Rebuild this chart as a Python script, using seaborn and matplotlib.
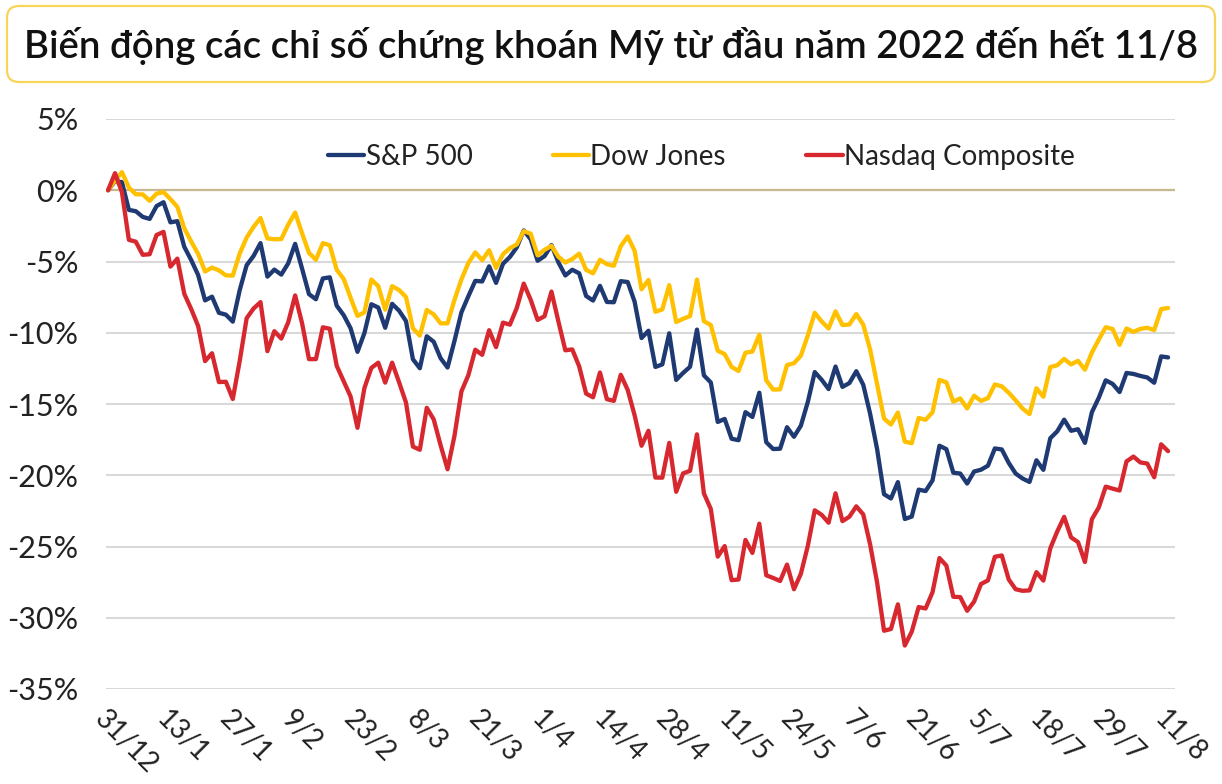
import matplotlib
matplotlib.use("Agg")
import matplotlib.pyplot as plt
from matplotlib.patches import FancyBboxPatch
import numpy as np
import pandas as pd
import seaborn as sns

# Cumulative change since 31/12/2021 (%), one value per trading day up to 11/8/2022
sp500 = [0, 0.64, 0.57, -1.38, -1.47, -1.87, -2.01, -1.11, -0.84, -2.25,
         -2.17, -3.97, -4.90, -5.95, -7.73, -7.47, -8.60, -8.73, -9.22, -7.01,
         -5.26, -4.61, -3.71, -6.06, -5.57, -5.92, -5.13, -3.76, -5.50, -7.29,
         -7.65, -6.19, -6.11, -8.10, -8.76, -9.68, -11.34, -10.02, -8.00, -8.23,
         -9.65, -7.97, -8.45, -9.18, -11.86, -12.49, -10.25, -10.63, -11.79, -12.44,
         -10.57, -8.57, -7.44, -6.36, -6.40, -5.34, -6.50, -5.16, -4.68, -4.00,
         -2.82, -3.44, -4.95, -4.62, -3.85, -5.06, -5.98, -5.58, -5.83, -7.42,
         -7.74, -6.71, -7.84, -7.86, -6.38, -6.44, -7.82, -10.37, -9.86, -12.40,
         -12.22, -10.04, -13.31, -12.82, -12.39, -9.78, -12.99, -13.49, -16.26, -16.05,
         -17.44, -17.54, -15.57, -15.91, -14.21, -17.68, -18.16, -18.14, -16.63, -17.30,
         -16.52, -14.86, -12.76, -13.30, -13.95, -12.37, -13.80, -13.53, -12.70, -13.65,
         -15.70, -18.16, -21.33, -21.63, -20.48, -23.07, -22.90, -21.01, -21.11, -20.36,
         -17.93, -18.17, -19.82, -19.88, -20.58, -19.74, -19.61, -19.33, -18.12, -18.19,
         -19.13, -19.88, -20.23, -20.47, -18.95, -19.62, -17.40, -16.92, -16.10, -16.88,
         -16.77, -17.73, -15.58, -14.56, -13.34, -13.59, -14.16, -12.82, -12.89, -13.03,
         -13.14, -13.51, -11.66, -11.73]

dow = [0, 0.68, 1.27, 0.19, -0.28, -0.29, -0.74, -0.24, -0.13, -0.62,
       -1.17, -2.67, -3.60, -4.47, -5.70, -5.43, -5.62, -5.97, -5.99, -4.44,
       -3.32, -2.57, -1.95, -3.38, -3.44, -3.43, -2.41, -1.57, -3.02, -4.40,
       -4.88, -3.71, -3.86, -5.58, -6.22, -7.54, -8.82, -8.57, -6.27, -6.73,
       -8.38, -6.73, -7.00, -7.49, -9.69, -10.20, -8.40, -8.71, -9.34, -9.34,
       -7.69, -6.26, -5.11, -4.36, -4.91, -4.21, -5.45, -4.49, -4.06, -3.80,
       -2.87, -3.05, -4.57, -4.18, -3.90, -4.67, -5.07, -4.83, -4.45, -5.59,
       -5.83, -4.88, -5.19, -5.30, -3.93, -3.24, -4.25, -6.95, -6.30, -8.53,
       -8.36, -6.66, -9.25, -9.02, -8.83, -6.27, -9.19, -9.46, -11.26, -11.50,
       -12.40, -12.68, -11.40, -11.32, -10.14, -13.34, -13.99, -13.97, -12.27, -12.14,
       -11.61, -10.19, -8.60, -9.21, -9.70, -8.50, -9.46, -9.42, -8.69, -9.43,
       -11.19, -13.61, -16.02, -16.44, -15.60, -17.64, -17.75, -15.98, -16.11, -15.58,
       -13.31, -13.48, -14.84, -14.61, -15.31, -14.42, -14.78, -14.59, -13.63, -13.76,
       -14.21, -14.74, -15.32, -15.71, -13.90, -14.49, -12.41, -12.28, -11.84, -12.22,
       -11.97, -12.59, -11.39, -10.48, -9.61, -9.74, -10.85, -9.70, -9.94, -9.73,
       -9.65, -9.81, -8.34, -8.26]

nasdaq = [0, 1.20, -0.14, -3.48, -3.61, -4.53, -4.49, -3.14, -2.92, -5.36,
          -4.80, -7.27, -8.34, -9.53, -11.99, -11.44, -13.46, -13.44, -14.65, -11.98,
          -8.98, -8.30, -7.85, -11.29, -9.89, -10.41, -9.27, -7.38, -9.33, -11.85,
          -11.85, -9.62, -9.72, -12.32, -13.40, -14.47, -16.67, -13.88, -12.47, -12.10,
          -13.50, -12.10, -13.47, -14.90, -17.99, -18.21, -15.27, -16.08, -17.90, -19.58,
          -17.23, -14.12, -12.98, -11.19, -11.55, -9.82, -11.01, -9.29, -9.43, -8.25,
          -6.55, -7.69, -9.10, -8.84, -7.11, -9.21, -11.23, -11.17, -12.36, -14.27,
          -14.53, -12.79, -14.66, -14.78, -12.95, -14.01, -15.79, -17.93, -16.88, -20.16,
          -20.17, -17.73, -21.16, -19.87, -19.69, -17.13, -21.27, -22.37, -25.71, -24.97,
          -27.36, -27.32, -24.54, -25.45, -23.40, -27.02, -27.21, -27.42, -26.27, -28.00,
          -26.91, -24.96, -22.46, -22.78, -23.33, -21.27, -23.22, -22.91, -22.18, -22.75,
          -24.87, -27.52, -30.91, -30.79, -29.06, -31.95, -30.98, -29.25, -29.35, -28.21,
          -25.81, -26.34, -28.53, -28.55, -29.51, -28.87, -27.63, -27.38, -25.72, -25.63,
          -27.31, -28.00, -28.11, -28.08, -26.80, -27.39, -25.13, -23.95, -22.92, -24.36,
          -24.69, -26.09, -23.09, -22.26, -20.80, -20.94, -21.07, -19.03, -18.69, -19.10,
          -19.18, -20.14, -17.83, -18.31]

series_names = ["S&P 500", "Dow Jones", "Nasdaq Composite"]
colors = ["#1F3A73", "#FFC000", "#D7282F"]
tick_labels = ["31/12", "13/1", "27/1", "9/2", "23/2", "8/3", "21/3", "1/4", "14/4",
               "28/4", "11/5", "24/5", "7/6", "21/6", "5/7", "18/7", "29/7", "11/8"]
y_ticks = [5, 0, -5, -10, -15, -20, -25, -30, -35]
title = "Biến động các chỉ số chứng khoán Mỹ từ đầu năm 2022 đến hết 11/8"

# long-form table for seaborn
frames = []
for name, vals in zip(series_names, [sp500, dow, nasdaq]):
    frames.append(pd.DataFrame({"day": np.arange(len(vals)), "pct": vals, "index": name}))
df = pd.concat(frames, ignore_index=True)

sns.set_theme(style="white")
plt.rcParams["font.family"] = ["Lato", "DejaVu Sans"]

fig = plt.figure(figsize=(12.22, 7.84), dpi=100)
ax = fig.add_axes([106 / 1222, 1 - 689 / 784, 1069 / 1222, 570 / 784])

sns.lineplot(data=df, x="day", y="pct", hue="index", palette=colors,
             hue_order=series_names, linewidth=3.1, ax=ax, zorder=3)

ax.axhline(0, color="#C8B88F", lw=1.6, zorder=2)
ax.set_ylim(-35, 5)
ax.set_xlim(-0.3, 154)
ax.set_yticks(y_ticks)
ax.set_yticklabels([f"{v}%" for v in y_ticks], fontsize=22, color="#222222")
ax.set_xticks(range(0, 154, 9))
ax.set_xticklabels(tick_labels, rotation=-45, ha="left", va="top",
                   rotation_mode="anchor", fontsize=20, color="#222222")
ax.tick_params(axis="y", length=0, pad=20)
ax.tick_params(axis="x", length=0, pad=12)
ax.yaxis.grid(True, color="#D9D9D9", lw=1.5, zorder=0)
ax.set_axisbelow(True)
ax.set_xlabel("")
ax.set_ylabel("")
for s in ax.spines.values():
    s.set_visible(False)

ax.legend(loc="center", bbox_to_anchor=(0.557, 0.933), ncol=3, frameon=False,
          fontsize=20, handlelength=1.3, handletextpad=0.05, columnspacing=2.9,
          labelcolor="#222222")

# title box
box = FancyBboxPatch((0.07, 7.02), 12.08, 0.76,
                     boxstyle="round,pad=0,rounding_size=0.12",
                     transform=fig.dpi_scale_trans, facecolor="white",
                     edgecolor="#F7D45A", lw=1.6)
fig.patches.append(box)
fig.text(0.5, 1 - 46 / 784, title, ha="center", va="center", fontsize=27.6,
         fontweight="semibold", color="#111111")

fig.savefig("out.png", dpi=100)
